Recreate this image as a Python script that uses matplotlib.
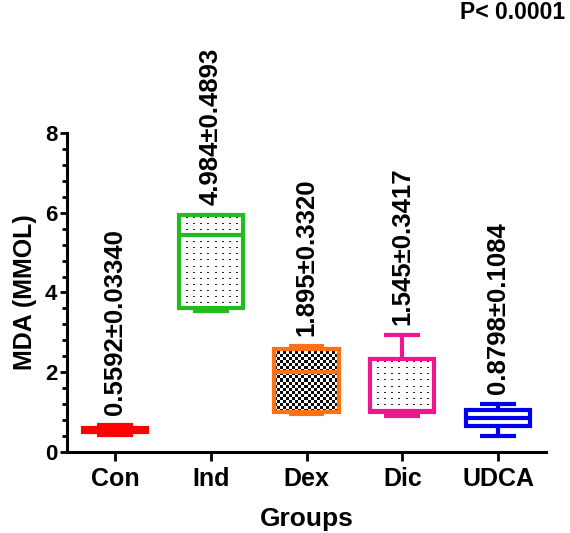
import numpy as np
import matplotlib
matplotlib.use("Agg")
import matplotlib.pyplot as plt
from matplotlib.ticker import MultipleLocator

plt.rcParams['font.family'] = ['Liberation Sans', 'DejaVu Sans']
plt.rcParams['font.weight'] = 'bold'

# values (min / quartiles / max per group)
groups = ['Con', 'Ind', 'Dex', 'Dic', 'UDCA']
mins = [0.42, 3.53, 0.95, 0.90, 0.41]
q1s = [0.50, 3.60, 1.01, 1.01, 0.66]
meds = [0.56, 5.44, 2.00, 1.04, 0.86]
q3s = [0.61, 5.95, 2.59, 2.34, 1.05]
maxs = [0.68, 5.95, 2.65, 2.93, 1.20]
mean_sem = ['0.5592\u00b10.03340', '4.984\u00b10.4893', '1.895\u00b10.3320',
            '1.545\u00b10.3417', '0.8798\u00b10.1084']

colors = ['#ff0000', '#22bb22', '#ff7214', '#f0168c', '#0000f0']
fills = [None, 'dots', 'checker', 'dots', None]


def pattern(kind, w, h):
    # pixel level fill pattern
    i = np.arange(h)[:, None]
    j = np.arange(w)[None, :]
    img = np.ones((h, w, 3))
    if kind == 'checker':
        m = ((i // 3 + j // 3) % 2) == 0
        img[m] = 0.05
    else:
        m = ((i % 6) == 3) & ((j % 7) < 2)
        img[m] = 0.15
    return img


fig = plt.figure(figsize=(5.7, 5.33), dpi=100)
ax = fig.add_axes([0.1175, 0.152, 0.8405, 0.5985])

stats = []
for g, lo, a, m, b, hi in zip(groups, mins, q1s, meds, q3s, maxs):
    stats.append(dict(label=g, whislo=lo, q1=a, med=m, q3=b, whishi=hi, fliers=[]))

pos = np.arange(len(groups))
bp = ax.bxp(stats, positions=pos, widths=0.67, capwidths=0.375, patch_artist=True,
            showfliers=False, boxprops=dict(facecolor='none', linewidth=3),
            whiskerprops=dict(linewidth=3), capprops=dict(linewidth=3),
            medianprops=dict(linewidth=3))

for k, c in enumerate(colors):
    bp['boxes'][k].set_edgecolor(c)
    bp['boxes'][k].set_zorder(3)
    bp['medians'][k].set_color(c)
    bp['medians'][k].set_zorder(3)
    for ln in bp['whiskers'][2 * k:2 * k + 2] + bp['caps'][2 * k:2 * k + 2]:
        ln.set_color(c)
        ln.set_solid_capstyle('butt')

ax.set_xlim(-0.5, 4.5)
ax.set_ylim(0, 8)

for k, kind in enumerate(fills):
    if kind is None:
        continue
    x0, x1 = pos[k] - 0.335, pos[k] + 0.335
    p = ax.transData.transform([[x0, q1s[k]], [x1, q3s[k]]])
    w = int(abs(p[1, 0] - p[0, 0]))
    h = int(abs(p[1, 1] - p[0, 1]))
    im = ax.imshow(pattern(kind, w, h), extent=(x0, x1, q1s[k], q3s[k]),
                   aspect='auto', interpolation='nearest', zorder=2)
    im.set_clip_path(bp['boxes'][k])

ax.set_xlim(-0.5, 4.5)
ax.set_ylim(0, 8)

for k, txt in enumerate(mean_sem):
    ax.text(pos[k], maxs[k] + 0.25, txt, rotation=90, ha='center', va='bottom',
            fontsize=18.5, fontweight='bold', clip_on=False)

ax.spines['top'].set_visible(False)
ax.spines['right'].set_visible(False)
ax.spines['left'].set_linewidth(2.2)
ax.spines['bottom'].set_linewidth(2.2)

ax.set_xticks(pos)
ax.set_xticklabels(groups, fontsize=18, fontweight='bold')
ax.set_yticks([0, 2, 4, 6, 8])
ax.set_yticklabels(['0', '2', '4', '6', '8'], fontsize=16, fontweight='bold')
ax.yaxis.set_minor_locator(MultipleLocator(0.4))
ax.tick_params(axis='y', which='major', length=5, width=2, pad=2)
ax.tick_params(axis='y', which='minor', length=3.5, width=2)
ax.tick_params(axis='x', which='major', length=6.5, width=2, pad=4)

ax.set_xlabel('Groups', fontsize=19, fontweight='bold', labelpad=12)
ax.set_ylabel('MDA (MMOL)', fontsize=18, fontweight='bold', labelpad=6)

fig.text(0.991, 0.964, 'P< 0.0001', ha='right', va='baseline',
         fontsize=16.5, fontweight='bold')

fig.savefig('out.png', dpi=100)
